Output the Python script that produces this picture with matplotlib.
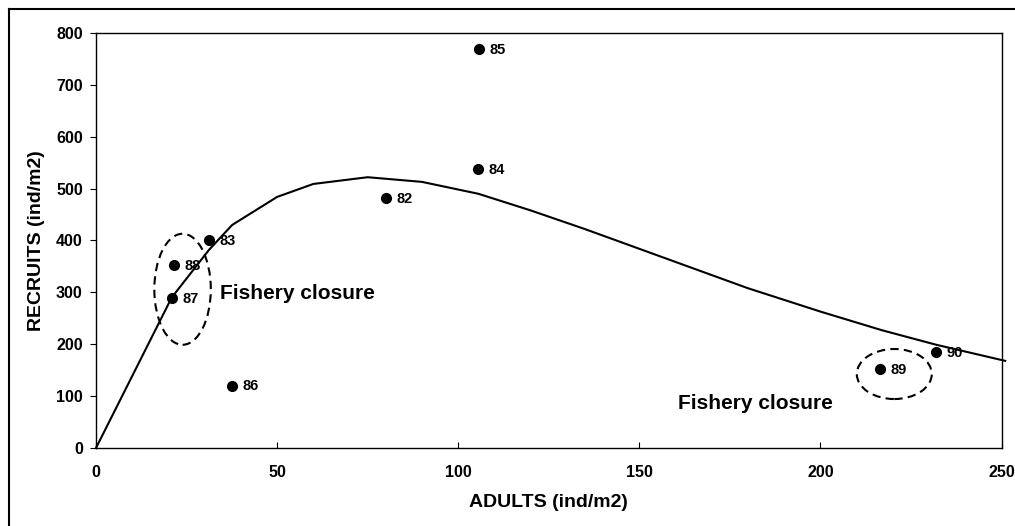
import matplotlib
matplotlib.use("Agg")
import matplotlib.pyplot as plt
from matplotlib.patches import Ellipse
from matplotlib.lines import Line2D

plt.rcParams['font.family'] = ['Liberation Sans', 'DejaVu Sans']

# observed data
years = ["82", "83", "84", "85", "86", "87", "88", "89", "90"]
adults = [80.0, 31.2, 105.4, 105.7, 37.5, 20.9, 21.5, 216.5, 231.9]
recruits = [481, 400, 537, 769, 120, 289, 352, 152, 185]

# fitted stock-recruitment curve
curve_x = [0, 20.9, 31.2, 37.6, 50, 60, 75, 90, 105.6, 120, 135, 150, 165, 180, 200, 217, 232, 251]
curve_y = [0, 290, 382, 430, 484, 509, 522, 513, 490, 458, 422, 384, 346, 308, 263, 227, 199, 168]

x_ticks = [0, 50, 100, 150, 200, 250]
y_ticks = [0, 100, 200, 300, 400, 500, 600, 700, 800]

W, H = 1015, 526
fig = plt.figure(figsize=(W / 100, H / 100), dpi=100)
ax = fig.add_axes([96 / W, 1 - 448 / H, (1001.5 - 96) / W, (448 - 33) / H])

ax.plot(curve_x, curve_y, color='black', lw=1.5, clip_on=False, zorder=2)
ax.plot(adults, recruits, 'o', color='black', ms=7, zorder=3)
for x, y, t in zip(adults, recruits, years):
    ax.annotate(t, (x, y), xytext=(7.5, -0.5), textcoords='offset points',
                ha='left', va='center', fontsize=10.5, fontweight='bold')

ax.add_patch(Ellipse((23.9, 306), 15.6, 214, fill=False, ls=(0, (4, 2.5)),
                     lw=1.5, color='black', zorder=2))
ax.add_patch(Ellipse((220.4, 142.6), 20.7, 96.4, fill=False, ls=(0, (4, 2.5)),
                     lw=1.5, color='black', zorder=2))
ax.text(34.2, 298, "Fishery closure", fontsize=15, fontweight='bold',
        ha='left', va='center')
ax.text(160.8, 85, "Fishery closure", fontsize=15, fontweight='bold',
        ha='left', va='center')

ax.set_xlim(0, 250)
ax.set_ylim(0, 800)
ax.set_xticks(x_ticks)
ax.set_yticks(y_ticks)
ax.set_xticklabels([str(v) for v in x_ticks], fontsize=11.5, fontweight='bold')
ax.set_yticklabels([str(v) for v in y_ticks], fontsize=11.5, fontweight='bold')
ax.tick_params(axis='x', direction='in', length=4, width=0.8, pad=12)
ax.tick_params(axis='y', direction='out', length=4.5, width=0.8, pad=5)
for s in ax.spines.values():
    s.set_linewidth(1.0)
    s.set_color('black')

ax.set_xlabel("ADULTS (ind/m2)", fontsize=14, fontweight='bold', labelpad=10)
ax.set_ylabel("RECRUITS (ind/m2)", fontsize=14, fontweight='bold', labelpad=8)

# outer frame (left and top edges visible)
fig.add_artist(Line2D([8.5 / W, 8.5 / W], [0, 1 - 8.5 / H], transform=fig.transFigure,
                      color='black', lw=1.5))
fig.add_artist(Line2D([8.5 / W, 1], [1 - 8.5 / H, 1 - 8.5 / H], transform=fig.transFigure,
                      color='black', lw=1.5))

fig.savefig("out.png", dpi=100)
